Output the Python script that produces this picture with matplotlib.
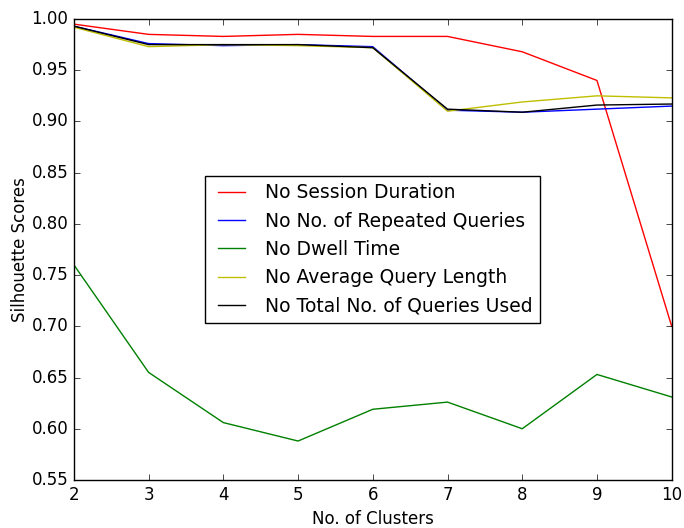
import matplotlib
matplotlib.use("Agg")
import matplotlib.pyplot as plt

plt.style.use('classic')

clusters = [2, 3, 4, 5, 6, 7, 8, 9, 10]
no_session_duration = [0.995, 0.985, 0.983, 0.985, 0.983, 0.983, 0.968, 0.940, 0.700]
no_repeated_queries = [0.993, 0.976, 0.974, 0.975, 0.973, 0.911, 0.909, 0.912, 0.915]
no_dwell_time = [0.760, 0.655, 0.606, 0.588, 0.619, 0.626, 0.600, 0.653, 0.631]
no_avg_query_length = [0.992, 0.973, 0.975, 0.974, 0.972, 0.910, 0.919, 0.925, 0.923]
no_total_queries = [0.993, 0.975, 0.975, 0.975, 0.972, 0.912, 0.909, 0.916, 0.917]

labels = ["No Session Duration", "No No. of Repeated Queries", "No Dwell Time",
          "No Average Query Length", "No Total No. of Queries Used"]
colors = ["r", "b", "g", "y", "k"]

fig = plt.figure(figsize=(6.84, 5.28), dpi=100, facecolor='white')
ax = fig.add_axes([0.108, 0.091, 0.874, 0.873])
for ys, lab, c in zip([no_session_duration, no_repeated_queries, no_dwell_time,
                       no_avg_query_length, no_total_queries], labels, colors):
    ax.plot(clusters, ys, color=c, label=lab, linewidth=1)

ax.set_xlim(2, 10)
ax.set_ylim(0.55, 1.00)
ax.set_xlabel("No. of Clusters", fontsize=12)
ax.set_ylabel("Silhouette Scores", fontsize=12, labelpad=2)
ax.tick_params(labelsize=12)
ax.legend(loc='center', fontsize=13.5)
fig.savefig("out.png", dpi=100, facecolor='white')
